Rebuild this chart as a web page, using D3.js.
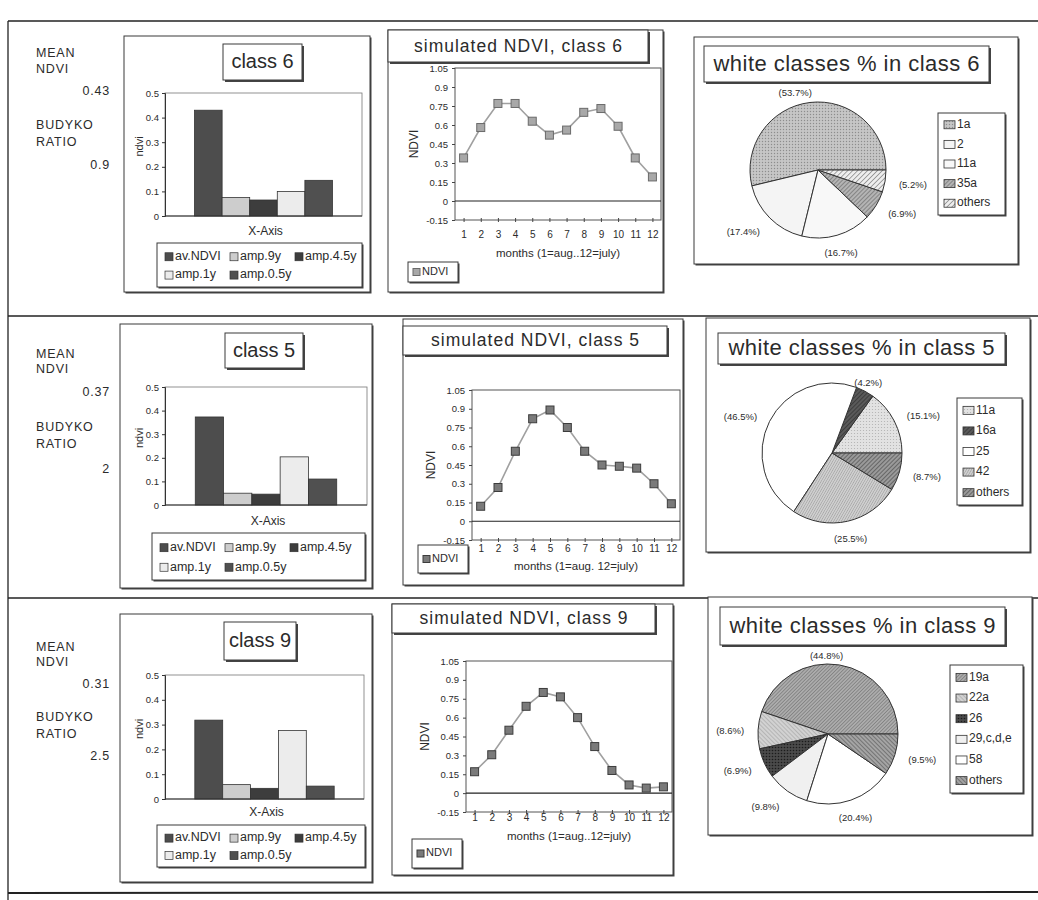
<!DOCTYPE html>
<html>
<head>
<meta charset="utf-8">
<script src="https://cdn.jsdelivr.net/npm/d3@7/dist/d3.min.js"></script>
<style>
  html, body { margin: 0; padding: 0; background: #ffffff; }
  svg { display: block; font-family: "Liberation Sans", Arial, Helvetica, sans-serif; }
</style>
</head>
<body>
<script>
// ---- data -------------------------------------------------------------
const classes = ["6", "5", "9"];
const meanNdvi = ["0.43", "0.37", "0.31"];
const budykoRatio = ["0.9", "2", "2.5"];

const ampSeries = ["av.NDVI", "amp.9y", "amp.4.5y", "amp.1y", "amp.0.5y"];
const ampClass6 = [0.43, 0.075, 0.065, 0.10, 0.145];
const ampClass5 = [0.373, 0.05, 0.046, 0.204, 0.11];
const ampClass9 = [0.318, 0.058, 0.043, 0.276, 0.052];
const ampTicks = [0, 0.1, 0.2, 0.3, 0.4, 0.5];

const months = [1, 2, 3, 4, 5, 6, 7, 8, 9, 10, 11, 12];
const ndviClass6 = [0.34, 0.58, 0.77, 0.77, 0.63, 0.52, 0.56, 0.70, 0.73, 0.59, 0.34, 0.19];
const ndviClass5 = [0.12, 0.27, 0.56, 0.82, 0.89, 0.75, 0.56, 0.45, 0.44, 0.425, 0.30, 0.14];
const ndviClass9 = [0.17, 0.305, 0.50, 0.69, 0.80, 0.765, 0.60, 0.37, 0.18, 0.065, 0.04, 0.05];
const ndviTicks = [-0.15, 0, 0.15, 0.3, 0.45, 0.6, 0.75, 0.9, 1.05];
const monthTitles = ["months (1=aug..12=july)", "months (1=aug. 12=july)", "months (1=aug..12=july)"];

const whiteNames6 = ["1a", "2", "11a", "35a", "others"];
const whiteShare6 = [53.7, 17.4, 16.7, 6.9, 5.2];
const whiteNames5 = ["11a", "16a", "25", "42", "others"];
const whiteShare5 = [15.1, 4.2, 46.5, 25.5, 8.7];
const whiteNames9 = ["19a", "22a", "26", "29,c,d,e", "58", "others"];
const whiteShare9 = [44.8, 8.6, 6.9, 9.8, 20.4, 9.5];

// ---- page -------------------------------------------------------------
const W = 1038, H = 900;
const INK = "#2b2b2b", LINE = "#3a3a3a";
const svg = d3.select("body").append("svg").attr("width", W).attr("height", H);
const defs = svg.append("defs");

function hatch(id, bg, fg, gap, angle, sw) {
  const p = defs.append("pattern").attr("id", id).attr("patternUnits", "userSpaceOnUse")
    .attr("width", gap).attr("height", gap).attr("patternTransform", `rotate(${angle})`);
  p.append("rect").attr("width", gap).attr("height", gap).attr("fill", bg);
  p.append("line").attr("x1", 0).attr("y1", 0).attr("x2", 0).attr("y2", gap)
    .attr("stroke", fg).attr("stroke-width", sw);
}
function stipple(id, bg, fg, gap, r) {
  const p = defs.append("pattern").attr("id", id).attr("patternUnits", "userSpaceOnUse")
    .attr("width", gap).attr("height", gap);
  p.append("rect").attr("width", gap).attr("height", gap).attr("fill", bg);
  p.append("circle").attr("cx", gap / 2).attr("cy", gap / 2).attr("r", r).attr("fill", fg);
}
stipple("stipMid", "#c6c6c6", "#8d8d8d", 3, 0.7);
stipple("stipLight", "#e2e2e2", "#b0b0b0", 3, 0.6);
stipple("stipDark", "#4a4a4a", "#1c1c1c", 3, 0.8);
hatch("hatchGray", "#b4b4b4", "#555", 3, 45, 1);
hatch("hatchOpen", "#eeeeee", "#555", 3.5, 45, 1);
hatch("hatchDark", "#5a5a5a", "#222", 3, 45, 1);
hatch("hatchFine", "#cfcfcf", "#8a8a8a", 2.2, 30, 0.8);
hatch("hatchMid", "#9a9a9a", "#333", 3, 45, 1);
hatch("hatch19", "#acacac", "#666", 2.5, 45, 1);
hatch("hatch22", "#d2d2d2", "#999", 3, -45, 1);
hatch("hatchOthers9", "#a4a4a4", "#444", 3, -45, 1);

const barFills = ["#4d4d4d", "#cdcdcd", "#3d3d3d", "#ececec", "#505050"];

// boxed frame with a small drop shadow on the right and bottom
function shadowBox(g, x0, y0, x1, y1, sh, sw) {
  g.append("rect").attr("x", x0 + sh).attr("y", y0 + sh).attr("width", x1 - x0).attr("height", y1 - y0)
    .attr("fill", "#444");
  g.append("rect").attr("x", x0).attr("y", y0).attr("width", x1 - x0).attr("height", y1 - y0)
    .attr("fill", "#fff").attr("stroke", LINE).attr("stroke-width", sw);
}
const fmt = d => String(+d.toFixed(2));

// ---- outer frame --------------------------------------------------------
const frame = svg.append("g").attr("stroke", "#222").attr("stroke-width", 1.3).attr("fill", "none");
frame.append("line").attr("x1", 8).attr("y1", 21).attr("x2", W).attr("y2", 21);
frame.append("line").attr("x1", 8).attr("y1", 21).attr("x2", 8).attr("y2", H);
frame.append("line").attr("x1", 8).attr("y1", 316).attr("x2", W).attr("y2", 316);
frame.append("line").attr("x1", 8).attr("y1", 598).attr("x2", W).attr("y2", 598);
frame.append("line").attr("x1", 8).attr("y1", 893).attr("x2", W).attr("y2", 892).attr("stroke-width", 2);

// ---- rows ----------------------------------------------------------------
const rows = [
  {
    amps: ampClass6, ndvi: ndviClass6, names: whiteNames6, shares: whiteShare6,
    fills: ["url(#stipMid)", "#f4f4f4", "#f8f8f8", "url(#hatchGray)", "url(#hatchOpen)"],
    text: [54, 70, 92, 126, 143, 166],
    bar: { panel: [124, 36, 370, 292], title: [223, 44, 302, 80], plot: [165, 93, 362, 216], xlab: 232, leg: [157, 243, 362, 287] },
    line: { panel: [388, 30, 663, 292], title: [388, 30, 648, 62], plot: [455, 68, 661, 220], tick: 235, xlab: 254, leg: [408, 262, 458, 282] },
    pie: { panel: [694, 37, 1018, 264], title: [704, 46, 989, 82], c: [818, 170], r: 68, leg: [938, 113, 1005, 215] }
  },
  {
    amps: ampClass5, ndvi: ndviClass5, names: whiteNames5, shares: whiteShare5,
    fills: ["url(#stipLight)", "url(#hatchDark)", "#ffffff", "url(#hatchFine)", "url(#hatchMid)"],
    text: [355, 370, 393, 428, 445, 470],
    bar: { panel: [120, 324, 372, 588], title: [225, 333, 303, 368], plot: [165, 387, 367, 505], xlab: 522, leg: [152, 533, 365, 580] },
    line: { panel: [403, 319, 683, 585], title: [403, 326, 667, 355], plot: [472, 390, 680, 540], tick: 549, xlab: 567, leg: [418, 545, 468, 573] },
    pie: { panel: [706, 318, 1030, 552], title: [718, 333, 1005, 364], c: [832, 453], r: 70, leg: [957, 398, 1022, 505] }
  },
  {
    amps: ampClass9, ndvi: ndviClass9, names: whiteNames9, shares: whiteShare9,
    fills: ["url(#hatch19)", "url(#hatch22)", "url(#stipDark)", "#f0f0f0", "#ffffff", "url(#hatchOthers9)"],
    text: [648, 663, 685, 718, 735, 757],
    bar: { panel: [120, 614, 372, 882], title: [224, 622, 296, 660], plot: [165, 675, 364, 799], xlab: 813, leg: [157, 825, 365, 867] },
    line: { panel: [392, 604, 673, 875], title: [392, 604, 655, 633], plot: [466, 661, 672, 812], tick: 818, xlab: 837, leg: [412, 839, 462, 868] },
    pie: { panel: [708, 597, 1032, 835], title: [720, 607, 1005, 645], c: [828, 734], r: 70, leg: [950, 665, 1023, 793] }
  }
];

rows.forEach((row, i) => {
  const g = svg.append("g");

  // left-hand summary figures
  const t = row.text;
  const side = g.append("g").attr("fill", INK).attr("font-size", 12.5).attr("letter-spacing", 0.8)
    .attr("dominant-baseline", "middle");
  side.append("text").attr("x", 36).attr("y", t[0]).text("MEAN");
  side.append("text").attr("x", 36).attr("y", t[1]).text("NDVI");
  side.append("text").attr("x", 110).attr("y", t[2]).attr("text-anchor", "end").text(meanNdvi[i]);
  side.append("text").attr("x", 36).attr("y", t[3]).text("BUDYKO");
  side.append("text").attr("x", 36).attr("y", t[4]).text("RATIO");
  side.append("text").attr("x", 110).attr("y", t[5]).attr("text-anchor", "end").text(budykoRatio[i]);

  // ---- amplitude bar chart ----
  const B = row.bar;
  const gb = g.append("g");
  shadowBox(gb, B.panel[0], B.panel[1], B.panel[2], B.panel[3], 1.5, 1);
  shadowBox(gb, B.title[0], B.title[1], B.title[2], B.title[3], 2, 1);
  gb.append("text").attr("x", (B.title[0] + B.title[2]) / 2).attr("y", (B.title[1] + B.title[3]) / 2 + 1)
    .attr("text-anchor", "middle").attr("dominant-baseline", "middle").attr("font-size", 20).attr("fill", INK)
    .text("class " + classes[i]);

  const [px0, py0, px1, py1] = B.plot;
  const xb = d3.scaleBand().domain(ampSeries).range([px0, px1]).paddingInner(0).paddingOuter(1.07);
  const yb = d3.scaleLinear().domain([0, 0.5]).range([py1, py0]);
  gb.append("rect").attr("x", px0).attr("y", py0).attr("width", px1 - px0).attr("height", py1 - py0)
    .attr("fill", "none").attr("stroke", "#777").attr("stroke-width", 0.8);
  gb.selectAll("rect.bar").data(ampSeries).join("rect").attr("class", "bar")
    .attr("x", d => xb(d)).attr("width", xb.bandwidth())
    .attr("y", (d, k) => yb(row.amps[k])).attr("height", (d, k) => yb(0) - yb(row.amps[k]))
    .attr("fill", (d, k) => barFills[k]).attr("stroke", "#333").attr("stroke-width", 0.8);
  const ay = gb.append("g").attr("transform", `translate(${px0},0)`)
    .call(d3.axisLeft(yb).tickValues(ampTicks).tickFormat(fmt).tickSize(3).tickPadding(3));
  ay.select(".domain").attr("stroke", "#333");
  ay.selectAll("text").attr("font-size", 9.5).attr("fill", INK).attr("font-family", null);
  ay.selectAll(".tick line").attr("stroke", "#333");
  gb.append("line").attr("x1", px0).attr("x2", px1).attr("y1", yb(0)).attr("y2", yb(0)).attr("stroke", "#333");
  gb.append("text").attr("transform", `translate(${px0 - 22},${(py0 + py1) / 2 - 8}) rotate(-90)`)
    .attr("text-anchor", "middle").attr("font-size", 11).attr("fill", INK).text("ndvi");
  gb.append("text").attr("x", (px0 + px1) / 2 + 2).attr("y", B.xlab).attr("text-anchor", "middle")
    .attr("dominant-baseline", "middle").attr("font-size", 12).attr("fill", INK).text("X-Axis");

  const L = B.leg;
  shadowBox(gb, L[0], L[1], L[2], L[3], 1.5, 1);
  const rowH = (L[3] - L[1]) / 2.4;
  ampSeries.forEach((name, k) => {
    const lx = L[0] + 8 + (k % 3) * 65;
    const ly = L[1] + rowH * 0.75 + Math.floor(k / 3) * rowH;
    gb.append("rect").attr("x", lx).attr("y", ly - 4).attr("width", 8).attr("height", 8)
      .attr("fill", barFills[k]).attr("stroke", "#333").attr("stroke-width", 0.7);
    gb.append("text").attr("x", lx + 10).attr("y", ly).attr("dominant-baseline", "middle")
      .attr("font-size", 12.5).attr("fill", INK).text(name);
  });

  // ---- simulated NDVI line chart ----
  const P = row.line;
  const gl = g.append("g");
  shadowBox(gl, P.panel[0], P.panel[1], P.panel[2], P.panel[3], 1.5, 1);
  shadowBox(gl, P.title[0], P.title[1], P.title[2], P.title[3], 2, 1);
  gl.append("text").attr("x", (P.title[0] + P.title[2]) / 2).attr("y", (P.title[1] + P.title[3]) / 2 + 1)
    .attr("text-anchor", "middle").attr("dominant-baseline", "middle").attr("font-size", 17.5)
    .attr("textLength", 208).attr("lengthAdjust", "spacing").attr("fill", INK)
    .text("simulated NDVI, class " + classes[i]);

  const [lx0, ly0, lx1, ly1] = P.plot;
  const xl = d3.scalePoint().domain(months).range([lx0, lx1]).padding(0.5);
  const yl = d3.scaleLinear().domain([-0.15, 1.05]).range([ly1, ly0]);
  gl.append("rect").attr("x", lx0).attr("y", ly0).attr("width", lx1 - lx0).attr("height", ly1 - ly0)
    .attr("fill", "none").attr("stroke", "#555").attr("stroke-width", 1);
  gl.append("line").attr("x1", lx0).attr("x2", lx1).attr("y1", yl(0)).attr("y2", yl(0))
    .attr("stroke", "#222").attr("stroke-width", 1.2);
  const ly = gl.append("g").attr("transform", `translate(${lx0},0)`)
    .call(d3.axisLeft(yl).tickValues(ndviTicks).tickFormat(fmt).tickSize(3).tickPadding(4));
  ly.select(".domain").remove();
  ly.selectAll("text").attr("font-size", 9.5).attr("fill", INK).attr("font-family", null);
  ly.selectAll(".tick line").attr("stroke", "#444");
  const lxA = gl.append("g").attr("transform", `translate(0,${ly1 - 2})`)
    .call(d3.axisBottom(xl).tickSize(4).tickPadding(10));
  lxA.select(".domain").remove();
  lxA.selectAll(".tick line").attr("stroke", "#444");
  lxA.selectAll("text").attr("font-size", 10).attr("fill", INK).attr("font-family", null)
    .attr("dy", null).attr("y", P.tick - (ly1 - 2)).attr("dominant-baseline", "middle");
  gl.append("text").attr("x", (lx0 + lx1) / 2).attr("y", P.xlab).attr("text-anchor", "middle")
    .attr("dominant-baseline", "middle").attr("font-size", 11.5).attr("fill", INK).text(monthTitles[i]);
  gl.append("text").attr("transform", `translate(${lx0 - 40},${(ly0 + ly1) / 2}) rotate(-90)`)
    .attr("text-anchor", "middle").attr("dominant-baseline", "middle").attr("font-size", 12)
    .attr("fill", INK).text("NDVI");

  const mFill = i === 0 ? "#a8a8a8" : "#7a7a7a";
  const mStroke = i === 0 ? "#6a6a6a" : "#3c3c3c";
  gl.append("path").datum(row.ndvi)
    .attr("d", d3.line().x((d, k) => xl(months[k])).y(d => yl(d)))
    .attr("fill", "none").attr("stroke", "#a0a0a0").attr("stroke-width", 1.6);
  gl.selectAll("rect.pt").data(row.ndvi).join("rect").attr("class", "pt")
    .attr("x", (d, k) => xl(months[k]) - 4).attr("y", d => yl(d) - 4)
    .attr("width", 8).attr("height", 8).attr("fill", mFill).attr("stroke", mStroke).attr("stroke-width", 1);

  const LL = P.leg;
  shadowBox(gl, LL[0], LL[1], LL[2], LL[3], 1.5, 1);
  const lcy = (LL[1] + LL[3]) / 2;
  gl.append("rect").attr("x", LL[0] + 5).attr("y", lcy - 3.5).attr("width", 7).attr("height", 7)
    .attr("fill", mFill).attr("stroke", mStroke);
  gl.append("text").attr("x", LL[0] + 14).attr("y", lcy).attr("dominant-baseline", "middle")
    .attr("font-size", 11).attr("fill", INK).text("NDVI");

  // ---- white classes pie ----
  const C = row.pie;
  const gp = g.append("g");
  shadowBox(gp, C.panel[0], C.panel[1], C.panel[2], C.panel[3], 1.5, 1);
  shadowBox(gp, C.title[0], C.title[1], C.title[2], C.title[3], 2, 1);
  gp.append("text").attr("x", (C.title[0] + C.title[2]) / 2).attr("y", (C.title[1] + C.title[3]) / 2 + 1)
    .attr("text-anchor", "middle").attr("dominant-baseline", "middle").attr("font-size", 22)
    .attr("textLength", 266).attr("lengthAdjust", "spacing").attr("fill", INK)
    .text("white classes % in class " + classes[i]);

  const pie = d3.pie().sort(null).value(d => d)
    .startAngle(Math.PI / 2).endAngle(Math.PI / 2 - 2 * Math.PI);
  const arcs = pie(row.shares);
  const arc = d3.arc().innerRadius(0).outerRadius(C.r);
  const pg = gp.append("g").attr("transform", `translate(${C.c[0]},${C.c[1]})`);
  pg.selectAll("path").data(arcs).join("path").attr("d", arc)
    .attr("fill", (d, k) => row.fills[k]).attr("stroke", "#333").attr("stroke-width", 1);
  arcs.forEach((a, k) => {
    const mid = (a.startAngle + a.endAngle) / 2;
    const s = Math.sin(mid), c = Math.cos(mid);
    const R = C.r + (c > 0.8 ? 7 : 14);
    const anchor = s > 0.35 ? "start" : (s < -0.35 ? "end" : "middle");
    pg.append("text").attr("x", R * s - (c > 0.8 ? 14 : 0)).attr("y", -R * c + (c < -0.6 ? 5 : (c > 0.8 ? -2 : 2)))
      .attr("text-anchor", anchor).attr("dominant-baseline", "middle")
      .attr("font-size", 9.5).attr("fill", INK).text(`(${row.shares[k]}%)`);
  });

  const PL = C.leg;
  shadowBox(gp, PL[0], PL[1], PL[2], PL[3], 1.5, 1);
  const n = row.names.length;
  const step = (PL[3] - PL[1]) / (n + 0.2);
  row.names.forEach((name, k) => {
    const yy = PL[1] + step * (k + 0.6);
    gp.append("rect").attr("x", PL[0] + 6).attr("y", yy - 4).attr("width", 11).attr("height", 8)
      .attr("fill", row.fills[k]).attr("stroke", "#333").attr("stroke-width", 0.8);
    gp.append("text").attr("x", PL[0] + 19).attr("y", yy).attr("dominant-baseline", "middle")
      .attr("font-size", 12).attr("fill", INK).text(name);
  });
});
</script>
</body>
</html>
